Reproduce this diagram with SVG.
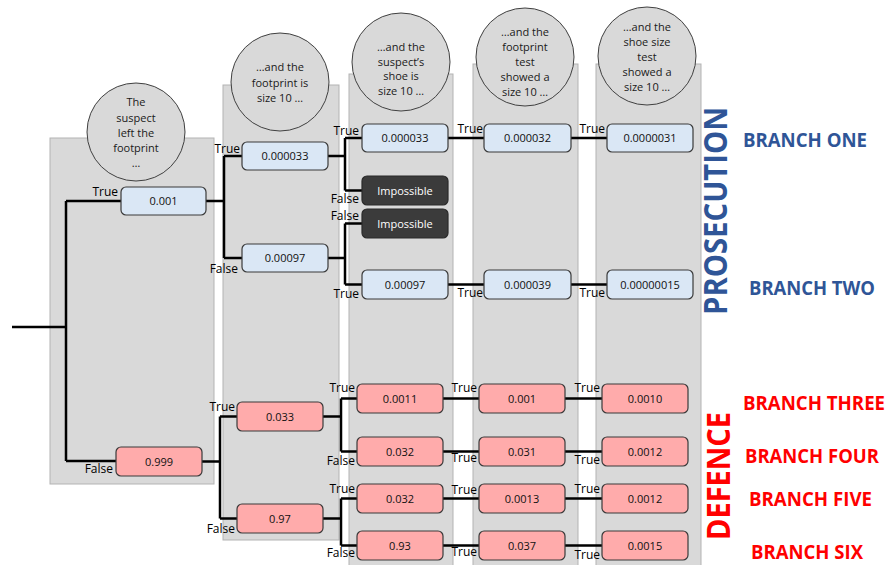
<svg xmlns="http://www.w3.org/2000/svg" width="887" height="565" viewBox="0 0 887 565">
<style>
.panel{fill:#d9d9d9;stroke:#b3b3b3;stroke-width:1}
.head{fill:#d9d9d9;stroke:#404040;stroke-width:1}
.ht{font-family:"Open Sans","Noto Sans",sans-serif;font-size:11px;fill:#1a1a1a;text-anchor:middle}
.blue{fill:#dae7f5;stroke:#3a3a3a;stroke-width:1.2}
.red{fill:#ffabab;stroke:#3a3a3a;stroke-width:1.2}
.dark{fill:#3b3b3b;stroke:#2a2a2a;stroke-width:1.2}
.nt{font-family:"Open Sans","Noto Sans",sans-serif;font-size:11px;fill:#111;text-anchor:middle}
.wt{font-family:"Open Sans","Noto Sans",sans-serif;font-size:11px;fill:#fff;text-anchor:middle}
.lb{font-family:"Open Sans","Noto Sans",sans-serif;font-size:12px;fill:#000;text-anchor:end}
.c{fill:none;stroke:#000;stroke-width:2.5}
.bb{font-family:"Open Sans","Noto Sans",sans-serif;font-weight:bold;fill:#2f5597}
.br{font-family:"Open Sans","Noto Sans",sans-serif;font-weight:bold;fill:#ff0000}
</style>
<g id="panels">
<rect class="panel" x="50" y="138" width="164" height="346"/>
<rect class="panel" x="223" y="85" width="116" height="455"/>
<rect class="panel" x="349" y="74" width="104" height="495"/>
<rect class="panel" x="473" y="64" width="105" height="505"/>
<rect class="panel" x="596" y="64" width="105" height="505"/>
</g>
<g id="headers">
<g id="h1"><circle class="head" cx="136" cy="132" r="49"/>
<text class="ht" x="136" y="106">The</text><text class="ht" x="136" y="121.5">suspect</text><text class="ht" x="136" y="137">left the</text><text class="ht" x="136" y="152">footprint</text><text class="ht" x="136" y="167">…</text></g>
<g id="h2"><circle class="head" cx="280" cy="82" r="49"/>
<text class="ht" x="280" y="71">…and the</text><text class="ht" x="280" y="87">footprint is</text><text class="ht" x="280" y="102">size 10 …</text></g>
<g id="h3"><circle class="head" cx="401" cy="62" r="49"/>
<text class="ht" x="401" y="51">…and the</text><text class="ht" x="401" y="66">suspect’s</text><text class="ht" x="401" y="80">shoe is</text><text class="ht" x="401" y="95">size 10 …</text></g>
<g id="h4"><circle class="head" cx="525" cy="57" r="49"/>
<text class="ht" x="525" y="36">…and the</text><text class="ht" x="525" y="51">footprint</text><text class="ht" x="525" y="66">test</text><text class="ht" x="525" y="81">showed a</text><text class="ht" x="525" y="96">size 10 …</text></g>
<g id="h5"><circle class="head" cx="647" cy="56" r="49"/>
<text class="ht" x="647" y="31">…and the</text><text class="ht" x="647" y="46">shoe size</text><text class="ht" x="647" y="61">test</text><text class="ht" x="647" y="76">showed a</text><text class="ht" x="647" y="91">size 10 …</text></g>
</g>
<g id="connectors">
<path class="c" d="M12,327 H66 M66,201 V461 M66,201 H121 M66,461 H116"/>
<path class="c" d="M206,201 H224 M224,156 V258 M224,156 H242 M224,258 H242"/>
<path class="c" d="M328,156 H345 M345,138 V190.5 M345,138 H362 M345,190.5 H362"/>
<path class="c" d="M328,258 H345 M345,223.5 V284.5 M345,223.5 H362 M345,284.5 H362"/>
<path class="c" d="M448,138 H484 M571,138 H607 M448,284.5 H484 M571,284.5 H607"/>
<path class="c" d="M202,461.5 H220 M220,416.5 V518.5 M220,416.5 H237 M220,518.5 H237"/>
<path class="c" d="M323,416.5 H341 M341,398.5 V451.5 M341,398.5 H357 M341,451.5 H357"/>
<path class="c" d="M323,518.5 H341 M341,498.5 V545.5 M341,498.5 H357 M341,545.5 H357"/>
<path class="c" d="M443,398.5 H479 M565,398.5 H602 M443,451.5 H479 M565,451.5 H602 M443,498.5 H479 M565,498.5 H602 M443,545.5 H479 M565,545.5 H602"/>
</g>
<g id="labels">
<text class="lb" x="118" y="196">True</text>
<text class="lb" x="113" y="473">False</text>
<text class="lb" x="240" y="153">True</text>
<text class="lb" x="238" y="273">False</text>
<text class="lb" x="359" y="135">True</text>
<text class="lb" x="359" y="203">False</text>
<text class="lb" x="359" y="220">False</text>
<text class="lb" x="359" y="298">True</text>
<text class="lb" x="483" y="133">True</text>
<text class="lb" x="605" y="133">True</text>
<text class="lb" x="483" y="297">True</text>
<text class="lb" x="605" y="297">True</text>
<text class="lb" x="235" y="411">True</text>
<text class="lb" x="235" y="533">False</text>
<text class="lb" x="355" y="392">True</text>
<text class="lb" x="355" y="465">False</text>
<text class="lb" x="355" y="493">True</text>
<text class="lb" x="355" y="557">False</text>
<text class="lb" x="477" y="392">True</text>
<text class="lb" x="600" y="392">True</text>
<text class="lb" x="477" y="462">True</text>
<text class="lb" x="600" y="464">True</text>
<text class="lb" x="477" y="494">True</text>
<text class="lb" x="600" y="493">True</text>
<text class="lb" x="477" y="556">True</text>
<text class="lb" x="600" y="559">True</text>
</g>
<g id="n1"><rect class="blue" x="121" y="187" width="85" height="28" rx="5"/><text class="nt" x="163.5" y="205">0.001</text></g>
<g id="n2"><rect class="blue" x="242" y="142" width="86" height="28" rx="5"/><text class="nt" x="285" y="160">0.000033</text></g>
<g id="n3"><rect class="blue" x="242" y="244" width="86" height="28" rx="5"/><text class="nt" x="285" y="262">0.00097</text></g>
<g id="n4"><rect class="blue" x="362" y="124" width="86" height="28" rx="5"/><text class="nt" x="405" y="142">0.000033</text></g>
<g id="n5"><rect class="dark" x="362" y="176" width="86" height="29" rx="5"/><text class="wt" x="405" y="194.5">Impossible</text></g>
<g id="n6"><rect class="dark" x="362" y="209" width="86" height="29" rx="5"/><text class="wt" x="405" y="227.5">Impossible</text></g>
<g id="n7"><rect class="blue" x="362" y="270" width="86" height="29" rx="5"/><text class="nt" x="405" y="288.5">0.00097</text></g>
<g id="n8"><rect class="blue" x="484" y="124" width="87" height="28" rx="5"/><text class="nt" x="527.5" y="142">0.000032</text></g>
<g id="n9"><rect class="blue" x="484" y="270" width="87" height="29" rx="5"/><text class="nt" x="527.5" y="288.5">0.000039</text></g>
<g id="n10"><rect class="blue" x="607" y="124" width="86" height="28" rx="5"/><text class="nt" x="650" y="142">0.0000031</text></g>
<g id="n11"><rect class="blue" x="607" y="270" width="86" height="29" rx="5"/><text class="nt" x="650" y="288.5">0.00000015</text></g>
<g id="n12"><rect class="red" x="116" y="447" width="86" height="29" rx="5"/><text class="nt" x="159" y="465.5">0.999</text></g>
<g id="n13"><rect class="red" x="237" y="402" width="86" height="29" rx="5"/><text class="nt" x="280" y="420.5">0.033</text></g>
<g id="n14"><rect class="red" x="237" y="504" width="86" height="29" rx="5"/><text class="nt" x="280" y="522.5">0.97</text></g>
<g id="n15"><rect class="red" x="357" y="384" width="86" height="29" rx="5"/><text class="nt" x="400" y="402.5">0.0011</text></g>
<g id="n16"><rect class="red" x="357" y="437" width="86" height="29" rx="5"/><text class="nt" x="400" y="455.5">0.032</text></g>
<g id="n17"><rect class="red" x="357" y="484" width="86" height="29" rx="5"/><text class="nt" x="400" y="502.5">0.032</text></g>
<g id="n18"><rect class="red" x="357" y="531" width="86" height="29" rx="5"/><text class="nt" x="400" y="549.5">0.93</text></g>
<g id="n19"><rect class="red" x="479" y="384" width="86" height="29" rx="5"/><text class="nt" x="522" y="402.5">0.001</text></g>
<g id="n20"><rect class="red" x="479" y="437" width="86" height="29" rx="5"/><text class="nt" x="522" y="455.5">0.031</text></g>
<g id="n21"><rect class="red" x="479" y="484" width="86" height="29" rx="5"/><text class="nt" x="522" y="502.5">0.0013</text></g>
<g id="n22"><rect class="red" x="479" y="531" width="86" height="29" rx="5"/><text class="nt" x="522" y="549.5">0.037</text></g>
<g id="n23"><rect class="red" x="602" y="384" width="86" height="29" rx="5"/><text class="nt" x="645" y="402.5">0.0010</text></g>
<g id="n24"><rect class="red" x="602" y="437" width="86" height="29" rx="5"/><text class="nt" x="645" y="455.5">0.0012</text></g>
<g id="n25"><rect class="red" x="602" y="484" width="86" height="29" rx="5"/><text class="nt" x="645" y="502.5">0.0012</text></g>
<g id="n26"><rect class="red" x="602" y="531" width="86" height="29" rx="5"/><text class="nt" x="645" y="549.5">0.0015</text></g>
<g id="titles">
<text class="bb" font-size="32" text-anchor="middle" transform="translate(727,211) rotate(-90)" textLength="208" lengthAdjust="spacingAndGlyphs">PROSECUTION</text>
<text class="br" font-size="32" text-anchor="middle" transform="translate(730,476) rotate(-90)" textLength="128" lengthAdjust="spacingAndGlyphs">DEFENCE</text>
<text class="bb" font-size="19" x="743" y="147" textLength="124" lengthAdjust="spacingAndGlyphs">BRANCH ONE</text>
<text class="bb" font-size="19" x="749" y="295" textLength="126" lengthAdjust="spacingAndGlyphs">BRANCH TWO</text>
<text class="br" font-size="19" x="743" y="410" textLength="142" lengthAdjust="spacingAndGlyphs">BRANCH THREE</text>
<text class="br" font-size="19" x="745" y="463" textLength="134" lengthAdjust="spacingAndGlyphs">BRANCH FOUR</text>
<text class="br" font-size="19" x="749" y="506" textLength="123" lengthAdjust="spacingAndGlyphs">BRANCH FIVE</text>
<text class="br" font-size="19" x="751" y="559" textLength="112" lengthAdjust="spacingAndGlyphs">BRANCH SIX</text>
</g>
</svg>
